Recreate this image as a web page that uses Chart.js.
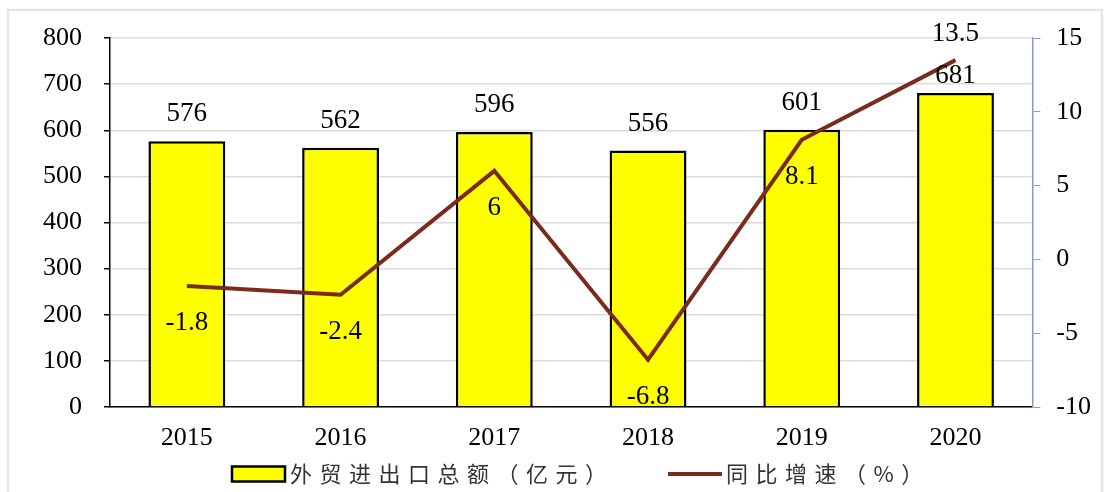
<!DOCTYPE html>
<html>
<head>
<meta charset="utf-8">
<script src="https://cdn.jsdelivr.net/npm/chart.js@4.4.1/dist/chart.umd.min.js"></script>
<style>
  html, body { margin: 0; padding: 0; background: #fff; }
  #wrap { position: relative; width: 1109px; height: 492px; }
</style>
</head>
<body>
<div id="wrap"><canvas id="trade-chart"></canvas></div>
<script>
// chart data
const years = ['2015', '2016', '2017', '2018', '2019', '2020'];
const tradeTotal = [576, 562, 596, 556, 601, 681];      // 外贸进出口总额（亿元）
const growthRate = [-1.8, -2.4, 6, -6.8, 8.1, 13.5];     // 同比增速（%）
const legendNames = ['外贸进出口总额（亿元）', '同比增速（%）'];

const serif = '"Liberation Serif", "Times New Roman", serif';
const lineColor = '#7b2a1c';

// frame + value labels + legend, drawn on the chart canvas
const extras = {
  id: 'extras',
  beforeDraw(chart) {
    const ctx = chart.ctx;
    ctx.save();
    ctx.strokeStyle = '#e6e6e6';
    ctx.lineWidth = 2.5;
    ctx.strokeRect(8, 10, 1094, 490);
    ctx.restore();
  },
  afterDatasetsDraw(chart) {
    const ctx = chart.ctx;
    ctx.save();
    ctx.font = '27px ' + serif;
    ctx.fillStyle = '#000';
    ctx.textAlign = 'center';
    ctx.textBaseline = 'middle';
    const bars = chart.getDatasetMeta(1).data;
    bars.forEach((bar, i) => {
      const off = i === bars.length - 1 ? 17 : 27;
      ctx.fillText(String(tradeTotal[i]), bar.x, bar.y - off);
    });
    const pts = chart.getDatasetMeta(0).data;
    pts.forEach((p, i) => {
      const dy = i === pts.length - 1 ? -26 : 37;
      ctx.fillText(String(growthRate[i]), p.x, p.y + dy);
    });
    ctx.restore();
  },
  afterDraw(chart) {
    const ctx = chart.ctx;
    ctx.save();
    ctx.font = '22px "Noto Sans CJK SC", sans-serif';
    ctx.letterSpacing = '7.5px';
    ctx.textBaseline = 'middle';
    let x = 232;
    const y = 474;
    ctx.fillStyle = '#ffff00';
    ctx.fillRect(x, y - 7.5, 53, 15);
    ctx.strokeStyle = '#000';
    ctx.lineWidth = 2.5;
    ctx.strokeRect(x, y - 7.5, 53, 15);
    x += 58;
    ctx.fillStyle = '#333';
    ctx.fillText(legendNames[0], x, y);
    x = 668;
    ctx.strokeStyle = lineColor;
    ctx.lineWidth = 4;
    ctx.beginPath();
    ctx.moveTo(x, y);
    ctx.lineTo(x + 54, y);
    ctx.stroke();
    x += 58;
    ctx.fillText(legendNames[1], x, y);
    ctx.restore();
  }
};

const chartCanvas = document.querySelector('#trade-chart');

new Chart(chartCanvas, {
  data: {
    labels: years,
    datasets: [
      {
        type: 'line',
        label: legendNames[1],
        data: growthRate,
        yAxisID: 'y1',
        borderColor: lineColor,
        backgroundColor: lineColor,
        borderWidth: 4,
        pointRadius: 0,
        tension: 0,
        order: 0
      },
      {
        type: 'bar',
        label: legendNames[0],
        data: tradeTotal,
        yAxisID: 'y',
        backgroundColor: '#ffff00',
        borderColor: '#000',
        borderWidth: 2.5,
        categoryPercentage: 0.5,
        barPercentage: 1,
        order: 1
      }
    ]
  },
  options: {
    responsive: true,
    maintainAspectRatio: false,
    animation: false,
    layout: { padding: { top: 38, bottom: 35, left: 0, right: 2 } },
    plugins: {
      legend: { display: false },
      tooltip: { enabled: false }
    },
    scales: {
      x: {
        grid: { display: false, drawTicks: false },
        border: { color: '#000', width: 1.5 },
        ticks: { color: '#000', padding: 16, font: { family: serif, size: 26 } },
        afterFit: s => { s.height = 50; }
      },
      y: {
        position: 'left',
        min: 0,
        max: 800,
        ticks: { stepSize: 100, color: '#000', padding: 22, font: { family: serif, size: 26 } },
        grid: { color: '#dcdcdc', lineWidth: 1.5, tickColor: '#000', tickLength: 6 },
        border: { color: '#000', width: 1.5 },
        afterFit: s => { s.width = 110; }
      },
      y1: {
        position: 'right',
        min: -10,
        max: 15,
        ticks: { stepSize: 5, color: '#000', padding: 16, crossAlign: 'near', font: { family: serif, size: 26 } },
        grid: { drawOnChartArea: false, tickColor: '#8a9ccb', tickLength: 8 },
        border: { color: '#8a9ccb', width: 1.5 }
      }
    }
  },
  plugins: [extras]
});
</script>
</body>
</html>
